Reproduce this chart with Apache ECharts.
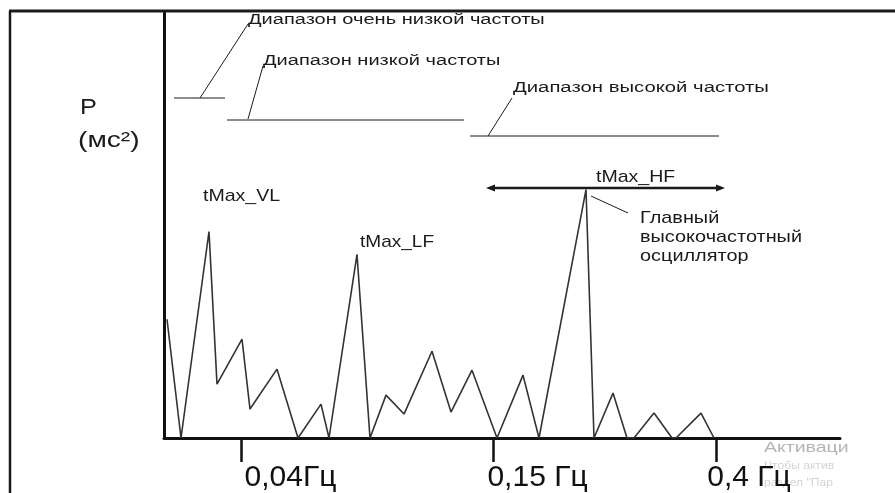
<!DOCTYPE html>
<html>
<head>
<meta charset="utf-8">
<script src="https://cdn.jsdelivr.net/npm/echarts@6/dist/echarts.min.js"></script>
<style>
  html, body { margin: 0; padding: 0; background: #fff; }
  #chart { width: 895px; height: 493px; }
</style>
</head>
<body>
<div id="chart"></div>
<script>
// положение вдоль схематической оси частот и мощность P (усл. ед.)
const freqPos = [3, 17, 45, 53, 78, 86, 113, 134, 157, 165, 193, 206, 222, 240, 268, 287, 308, 333, 359, 375, 422, 430, 449, 463, 470, 490, 508, 512, 537, 550];
const power = [119, 0, 207, 54, 99, 29, 69, 0, 34, 0, 184, 0, 43, 24, 87, 26, 68, 0, 63, 0, 249, 0, 45, 0, 0, 25, 0, 0, 25, 0];
// метки оси частот
const tickPos = [77, 329, 552];
const tickText = ['0,04Гц', '0,15 Гц', '0,4 Гц'];

const ink = '#1a1a1a';
const font = 'Liberation Sans, Arial, sans-serif';

function seg(x1, y1, x2, y2, w) {
  return { type: 'line', silent: true, shape: { x1, y1, x2, y2 }, style: { stroke: ink, lineWidth: w || 1 } };
}
function txt(x, y, s, size, sx, color) {
  return {
    type: 'text', x, y, scaleX: sx, silent: true,
    style: {
      text: s, fontSize: size, fontFamily: font, fill: color || ink,
      textAlign: 'left', align: 'left', textVerticalAlign: 'middle', verticalAlign: 'middle'
    }
  };
}

const chart = echarts.init(document.getElementById('chart'));

// отступы подписей под делениями
const labelPad = [99, 89, 66];
const rich = {};
tickText.forEach((t, i) => {
  rich['t' + i] = { fontSize: 30, fontFamily: font, color: '#111', padding: [0, 0, 0, labelPad[i]] };
});

const option = {
  animation: false,
  grid: { left: 164, right: 55, top: 13, bottom: 54 },
  xAxis: {
    type: 'value', min: 0, max: 676,
    splitLine: { show: false },
    axisLine: { lineStyle: { color: '#111', width: 3 } },
    axisTick: { customValues: tickPos, length: 24, lineStyle: { color: '#111', width: 2.5 } },
    axisLabel: {
      customValues: tickPos,
      margin: 25,
      align: 'center',
      rich: rich,
      formatter: v => {
        const i = tickPos.indexOf(v);
        return i < 0 ? '' : '{t' + i + '|' + tickText[i] + '}';
      }
    }
  },
  yAxis: {
    type: 'value', min: 0, max: 426,
    splitLine: { show: false },
    axisTick: { show: false },
    axisLabel: { show: false },
    axisLine: { show: true, lineStyle: { color: '#111', width: 3 } }
  },
  series: [{
    type: 'line',
    symbol: 'none',
    data: freqPos.map((x, i) => [x, power[i]]),
    lineStyle: { color: '#333', width: 1.6 }
  }],
  graphic: [
    // рамка
    seg(9, 11, 895, 11, 3),
    seg(10, 11, 10, 493, 2.5),
    // диапазоны
    seg(174, 98, 225, 98),
    seg(200, 98, 248, 24),
    seg(227, 120, 464, 120),
    seg(248, 119, 263, 66),
    seg(470, 136, 719, 136),
    seg(488, 136, 512, 98),
    // стрелка HF
    seg(490, 188, 721, 188, 2.5),
    { type: 'polygon', silent: true, shape: { points: [[486, 188], [495, 184.5], [495, 191.5]] }, style: { fill: ink } },
    { type: 'polygon', silent: true, shape: { points: [[725, 188], [716, 184.5], [716, 191.5]] }, style: { fill: ink } },
    seg(591, 196, 628, 213),
    // тексты
    txt(248, 20, 'Диапазон очень низкой частоты', 14, 1.43),
    txt(263, 61, 'Диапазон низкой частоты', 14, 1.43),
    txt(513, 88, 'Диапазон высокой частоты', 14, 1.45),
    txt(80, 108, 'P', 22, 1.15),
    txt(78, 141, '(мс²)', 22, 1.28),
    txt(203, 196, 'tMax_VL', 17, 1.15),
    txt(360, 242, 'tMax_LF', 17, 1.12),
    txt(596, 177, 'tMax_HF', 17, 1.15),
    txt(640, 218, 'Главный', 17, 1.17),
    txt(640, 237, 'высокочастотный', 17, 1.17),
    txt(640, 256, 'осциллятор', 17, 1.17),
    // водяной знак
    txt(764, 448, 'Активаци', 15, 1.3, '#b4b4b4'),
    txt(764, 466, 'Чтобы актив', 11, 1.1, '#d4d4d4'),
    txt(764, 483, 'раздел "Пар', 11, 1.1, '#d4d4d4')
  ]
};
chart.setOption(option);
</script>
</body>
</html>
